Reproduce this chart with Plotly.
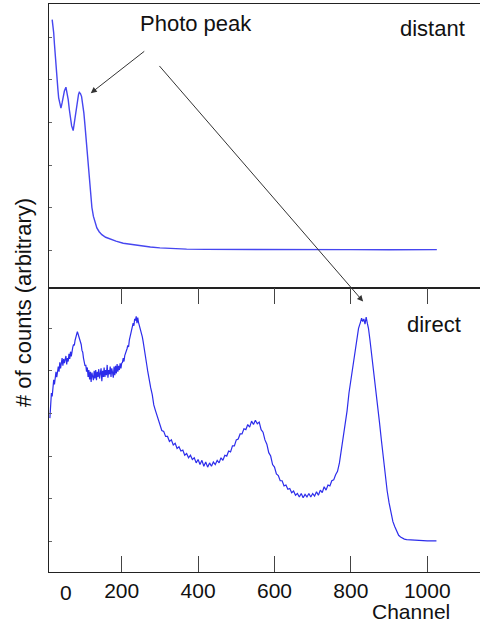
import plotly.graph_objects as go
from plotly.subplots import make_subplots

# ---- data (arbitrary count units) ----
distant_channel = [18, 20, 22, 24, 26, 28, 31, 33, 35, 38, 41, 44, 47, 50, 54, 57, 60, 63, 66, 69, 73, 76, 80, 84, 87, 89, 92, 95,
                   98, 101, 104, 107, 110, 113, 116, 119, 122, 126, 130, 135, 141, 148, 158, 169, 185, 204, 225, 248,
                   275, 300, 335, 370, 420, 510, 600, 700, 800, 900, 1025]
distant_counts = [642, 628, 611, 584, 555, 528, 501, 478, 458, 444, 434, 446, 461, 474, 483, 470, 454, 430, 407, 392, 381, 402, 430, 455, 466, 471, 468, 461,
                  444, 422, 392, 360, 324, 289, 256, 226, 200, 179, 164, 152, 143, 136, 130, 126, 121, 116, 113, 110,
                  107, 105, 103, 102, 101.5, 101, 101, 100.6, 101, 100.7, 101]

direct_channel = [12, 14, 16, 18, 20, 22, 24, 26, 28, 30, 32, 34, 36, 38, 40, 42, 44, 46, 48, 50,
                  52, 54, 56, 58, 60, 62, 64, 66, 68, 70, 72, 74, 76, 78, 80, 82, 84, 86, 88, 90,
                  92, 94, 96, 98, 100, 102, 104, 106, 108, 110, 112, 114, 116, 118, 120, 122, 124, 126, 128, 130,
                  132, 134, 136, 138, 140, 142, 144, 146, 148, 150, 152, 154, 156, 158, 160, 162, 164, 166, 168, 170,
                  172, 174, 176, 178, 180, 182, 184, 186, 188, 190, 192, 194, 196, 198, 200, 202, 204, 206, 208, 210,
                  212, 214, 216, 218, 220, 222, 224, 226, 228, 230, 232, 234, 236, 238, 240, 242, 244, 246, 248, 250,
                  252, 254, 256, 258, 260, 262, 264, 266, 268, 270, 272, 274, 276, 280, 284, 288, 292, 296,
                  300, 305, 310, 315, 320, 325, 330, 335, 340, 345, 350, 355, 360, 365, 370, 375, 380, 385, 390, 395,
                  400, 405, 410, 415, 420, 425, 430, 435, 440, 445, 450, 455, 460, 465, 470, 475, 480, 485, 490, 495,
                  500, 505, 510, 515, 520, 525, 530, 535, 540, 545, 550, 555, 560, 565, 570, 575, 580, 585, 590, 595,
                  600, 605, 610, 615, 620, 625, 630, 635, 640, 645, 650, 655, 660, 665, 670, 675, 680, 685, 690, 695,
                  700, 705, 710, 715, 720, 725, 730, 735, 740, 745, 750, 755, 760, 765, 770, 775, 780, 785, 790, 795,
                  800, 805, 810, 815, 820, 825, 828, 831, 834, 837, 840, 843, 846, 850, 855, 860, 865, 870, 875, 880,
                  885, 890, 895, 900, 905, 910, 915, 920, 925, 930, 935, 940, 946, 960, 980, 1000, 1024]
direct_counts = [389, 420, 448, 440, 470, 479, 468, 492, 498, 485, 508, 510, 498, 520, 506, 522, 530, 512, 528, 518,
                 526, 535, 515, 530, 522, 540, 528, 545, 534, 548, 556, 562, 560, 572, 580, 584, 592, 586, 580, 575,
                 568, 562, 548, 544, 530, 524, 512, 514, 498, 508, 486, 502, 480, 498, 474, 496, 482, 478, 500, 482,
                 502, 478, 498, 486, 504, 482, 494, 506, 476, 500, 486, 508, 486, 502, 490, 514, 484, 502, 492, 510,
                 486, 506, 496, 484, 510, 490, 512, 494, 516, 498, 512, 502, 518, 506, 518, 520, 530, 522, 536, 540,
                 546, 552, 560, 556, 572, 580, 590, 596, 604, 612, 606, 622, 618, 628, 612, 625, 614, 608, 600, 596,
                 585, 580, 570, 560, 550, 538, 524, 512, 500, 488, 476, 470, 460, 444, 420, 408, 396, 385,
                 378, 360, 358, 346, 346, 334, 338, 326, 330, 318, 322, 312, 314, 302, 306, 296, 302, 292, 296, 284,
                 292, 280, 290, 276, 286, 274, 284, 276, 286, 280, 290, 284, 296, 290, 302, 300, 312, 310, 324, 324,
                 338, 340, 352, 352, 364, 362, 374, 368, 382, 374, 384, 376, 380, 362, 356, 338, 328, 308, 300, 280,
                 274, 258, 254, 242, 242, 230, 232, 222, 224, 214, 218, 208, 212, 204, 212, 202, 210, 204, 212, 204,
                 212, 206, 216, 208, 220, 214, 228, 220, 232, 230, 242, 244, 256, 264, 284, 312, 344, 375, 406, 448,
                 480, 515, 548, 580, 600, 614, 624, 616, 622, 610, 626, 612, 600, 572, 536, 498, 462, 422, 378, 336,
                 292, 252, 218, 190, 164, 146, 134, 122, 114, 110, 107, 105, 104, 103, 102, 101, 101]

x_tick_vals = [200, 400, 600, 800, 1000]
x_tick_text = ["200", "400", "600", "800", "1000"]
y_tick_vals = [100, 200, 300, 400, 500, 600]

FONT = "Liberation Sans, Arial, sans-serif"
LINE = "rgb(45,45,235)"

fig = make_subplots(rows=2, cols=1, shared_xaxes=True, vertical_spacing=0)

fig.add_trace(go.Scatter(x=distant_channel, y=distant_counts, mode="lines",
                         line=dict(color="rgb(70,70,240)", width=1.4), showlegend=False), row=1, col=1)
fig.add_trace(go.Scatter(x=direct_channel, y=direct_counts, mode="lines",
                         line=dict(color=LINE, width=1.2), showlegend=False), row=2, col=1)

x_range = [9.7, 1138]
fig.update_xaxes(range=x_range, showgrid=False, zeroline=False, showline=True,
                 linecolor="#222", linewidth=1.2, automargin=False)
fig.update_xaxes(row=1, col=1, mirror=True, ticks="", showticklabels=False)
fig.update_xaxes(row=2, col=1, mirror="ticks", ticks="inside", ticklen=16, tickwidth=1.2,
                 tickcolor="#444", tickvals=x_tick_vals, ticktext=x_tick_text,
                 tickfont=dict(family=FONT, size=21, color="#111"))
fig.update_yaxes(showgrid=False, zeroline=False, showline=True, linecolor="#222", linewidth=1.2,
                 ticks="inside", ticklen=3, tickcolor="#666", tickvals=y_tick_vals,
                 showticklabels=False, automargin=False)
fig.update_yaxes(row=1, col=1, range=[10.6, 678.8])
fig.update_yaxes(row=2, col=1, range=[27.8, 694.6])

txt = dict(family=FONT, size=22, color="#111")
C = dict(xanchor="center", yanchor="middle", showarrow=False)
annotations = [
    dict(text="Photo peak", x=0.341, y=0.965, xref="paper", yref="paper", font=txt, **C),
    dict(text="distant", x=0.890, y=0.956, xref="paper", yref="paper", font=txt, **C),
    dict(text="direct", x=0.8926, y=0.435, xref="paper", yref="paper", font=txt, **C),
    dict(text="Channel", x=0.841, y=-0.070, xref="paper", yref="paper",
         font=dict(family=FONT, size=21, color="#111"), **C),
    dict(text="0", x=55, y=0, xref="x2", yref="paper", xanchor="center", yanchor="top", yshift=-7,
         showarrow=False, font=dict(family=FONT, size=21, color="#111")),
    dict(text="# of counts (arbitrary)", x=-0.058, y=0.4736, xref="paper", yref="paper",
         textangle=-90, font=txt, **C),
    # arrows from "Photo peak" to the two photo peaks
    dict(text="", x=119, y=469, xref="x", yref="y", ax=55, ay=-43, showarrow=True,
         arrowhead=2, arrowsize=1.2, arrowwidth=1, arrowcolor="#333"),
    dict(text="", x=832, y=663, xref="x2", yref="y2", ax=-205, ay=-237, showarrow=True,
         arrowhead=2, arrowsize=1.2, arrowwidth=1, arrowcolor="#333"),
]
fig.update_layout(width=480, height=626,
                  margin=dict(l=49, r=0, t=4, b=54, autoexpand=False),
                  paper_bgcolor="white", plot_bgcolor="white", annotations=annotations,
                  font=dict(family=FONT))

fig.write_html("out.html", config={"displayModeBar": False},
               post_script="document.body.style.margin='0';")
